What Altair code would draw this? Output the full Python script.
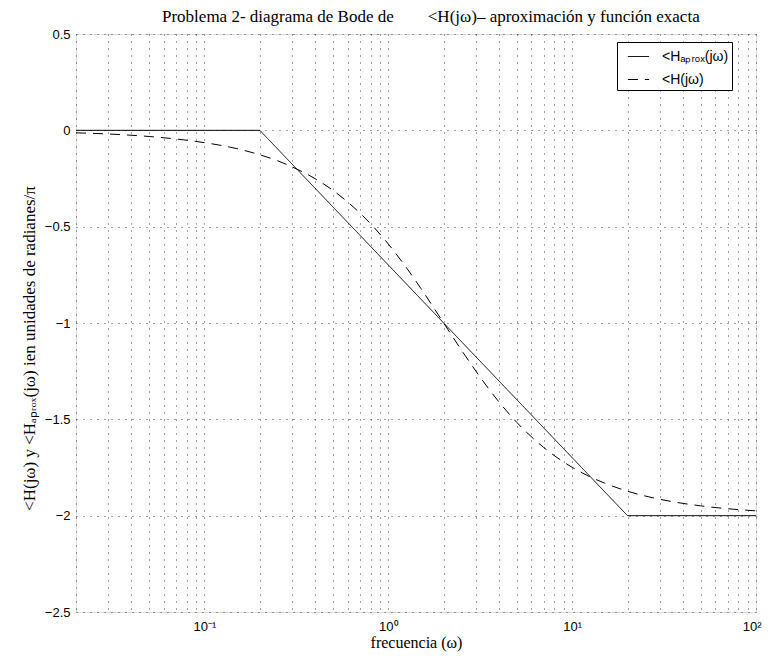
import altair as alt
import pandas as pd

# --- data ---
w_aprox = [0.02, 0.2, 20, 100]
h_aprox = [0.0, 0.0, -2.0, -2.0]

w_exact = [0.02, 0.03, 0.05, 0.07, 0.1, 0.15, 0.2, 0.25, 0.3, 0.4, 0.5, 0.7, 1.0,
           1.2, 1.5, 1.7, 2.0, 2.5, 3.0, 4.0, 5.0, 7.0, 10, 12, 15, 20, 30, 50, 70, 100]
h_exact = [-0.013, -0.019, -0.032, -0.045, -0.064, -0.095, -0.127, -0.158, -0.190,
           -0.251, -0.312, -0.429, -0.590, -0.688, -0.819, -0.897, -1.000, -1.141,
           -1.251, -1.410, -1.516, -1.646, -1.749, -1.790, -1.831, -1.873, -1.915,
           -1.949, -1.964, -1.975]

series = ["<Hₐₚᵣₒₓ(jω)", "<H(jω)"]

x_ticks = [k * 10.0 ** e for e in range(-2, 2) for k in range(1, 10) if k * 10.0 ** e >= 0.02] + [100.0]
y_ticks = [0.5, 0.0, -0.5, -1.0, -1.5, -2.0, -2.5]

df = pd.concat([
    pd.DataFrame({"w": w_aprox, "h": h_aprox, "s": series[0], "o": range(len(w_aprox))}),
    pd.DataFrame({"w": w_exact, "h": h_exact, "s": series[1], "o": range(len(w_exact))}),
])

label_expr = ("abs(datum.value-0.1)<1e-9 ? '10⁻¹' : abs(datum.value-1)<1e-9 ? '10⁰' : "
              "abs(datum.value-10)<1e-9 ? '10¹' : abs(datum.value-100)<1e-9 ? '10²' : ''")

x_enc = alt.X("w:Q",
              scale=alt.Scale(type="log", domain=[0.02, 100], nice=False),
              axis=alt.Axis(values=x_ticks, labelExpr=label_expr, grid=True, ticks=False,
                            domain=False, labelFont="Liberation Sans", labelFontSize=13,
                            labelColor="black", labelPadding=8, labelFlush=True,
                            labelFlushOffset=5, labelOverlap=False,
                            title="frecuencia  (ω)", titleFont="Liberation Serif",
                            titleFontSize=16, titleFontWeight="normal", titleColor="black",
                            titlePadding=1,
                            gridColor="#444", gridDash=[1, 6], gridWidth=1))
y_enc = alt.Y("h:Q",
              scale=alt.Scale(domain=[-2.5, 0.5], nice=False, zero=False),
              axis=alt.Axis(values=y_ticks, format="~g", grid=True, ticks=False, domain=False,
                            labelFont="Liberation Sans", labelFontSize=13, labelColor="black",
                            labelPadding=6,
                            title="<H(jω) y  <Hₐₚᵣₒₓ(jω) ien unidades de  radianes/π",
                            titleFont="Liberation Serif", titleFontSize=17,
                            titleFontWeight="normal", titleColor="black", titlePadding=6,
                            titleY=314,
                            gridColor="#444", gridDash=[1, 6], gridWidth=1))
dash_enc = alt.StrokeDash("s:N",
                          scale=alt.Scale(domain=series, range=[[1, 0], [10, 7]]),
                          legend=alt.Legend(title=None, orient="none", legendX=541, legendY=8,
                                            fillColor="white", strokeColor="black",
                                            padding=3, symbolType="stroke",
                                            symbolStrokeWidth=1, symbolSize=450,
                                            symbolOffset=7, labelOffset=12,
                                            symbolStrokeColor="black",
                                            labelFont="Liberation Sans", labelFontSize=14,
                                            labelColor="black", rowPadding=4,
                                            labelExpr="datum.label + '\u00a0\u00a0\u00a0\u00a0\u00a0'",
                                            labelLimit=200))

base = alt.Chart(df).encode(x=x_enc, y=y_enc, strokeDash=dash_enc, order="o:Q")

solid = base.transform_filter(alt.datum.s == series[0]).mark_line(
    strokeWidth=1, color="black", interpolate="linear")
dashed = base.transform_filter(alt.datum.s == series[1]).mark_line(
    strokeWidth=1, color="black", interpolate="monotone")

chart = alt.layer(solid, dashed).properties(
    width=680,
    height=578,
    autosize=alt.AutoSizeParams(type="none"),
    padding={"left": 68, "top": 26, "right": 6, "bottom": 41},
    title=alt.TitleParams(
        "Problema 2- diagrama de Bode de\u00a0\u00a0\u00a0\u00a0\u00a0\u00a0\u00a0\u00a0<H(jω)– aproximación y función exacta",
        anchor="start", frame="group", dx=86, font="Liberation Serif", fontSize=17,
        fontWeight="normal", color="black", offset=2),
).configure_view(stroke="black", strokeWidth=1).configure(background="white")

chart.save("out.html", embed_options={"renderer": "svg", "actions": False})
